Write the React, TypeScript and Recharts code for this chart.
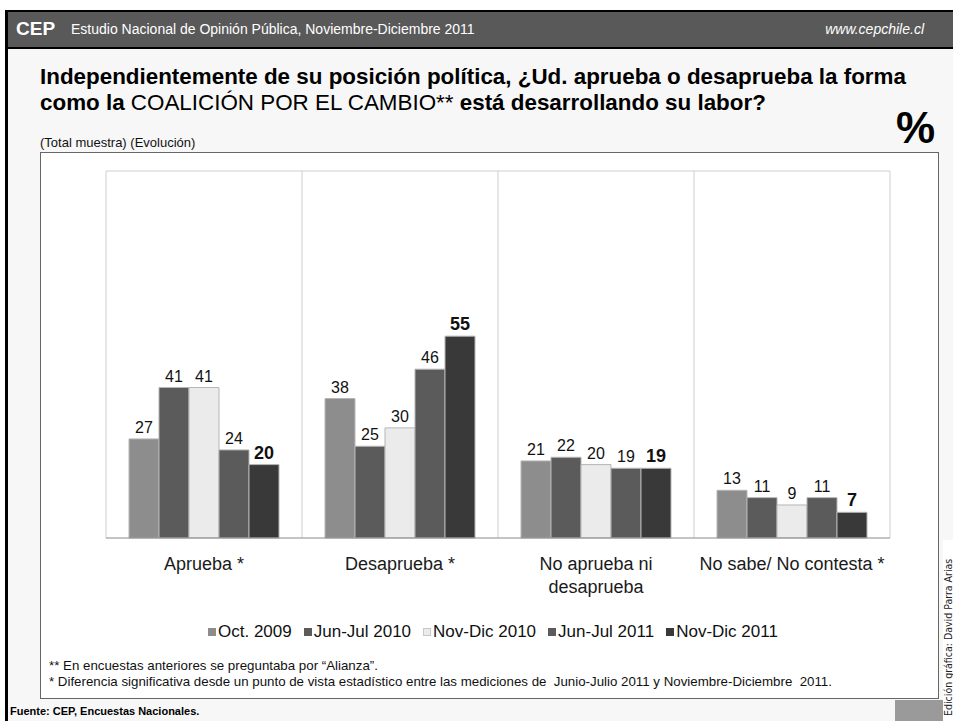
import React from "react"
import { BarChart, Bar, XAxis, YAxis, CartesianGrid, LabelList } from "recharts"

const CATEGORIES = ["Aprueba *", "Desaprueba *", "No aprueba ni\ndesaprueba", "No sabe/ No contesta *"]
const SERIES_NAMES = ["Oct. 2009", "Jun-Jul 2010", "Nov-Dic 2010", "Jun-Jul 2011", "Nov-Dic 2011"]
const OCT_2009 = [27, 38, 21, 13]
const JUN_JUL_2010 = [41, 25, 22, 11]
const NOV_DIC_2010 = [41, 30, 20, 9]
const JUN_JUL_2011 = [24, 46, 19, 11]
const NOV_DIC_2011 = [20, 55, 19, 7]
const SERIES_VALUES = [OCT_2009, JUN_JUL_2010, NOV_DIC_2010, JUN_JUL_2011, NOV_DIC_2011]
const SERIES_COLORS = ["#8d8d8d", "#5b5b5b", "#ebebeb", "#5b5b5b", "#393939"]

const FONT = "'Liberation Sans', Arial, sans-serif"

const chartData = CATEGORIES.map((category, ci) => {
  const row: Record<string, string | number> = { category }
  SERIES_VALUES.forEach((vals, si) => {
    row[`s${si}`] = vals[ci]
  })
  return row
})

const CHART_W = 897
const CHART_H = 470
const MARGIN = { top: 18, left: 65, right: 48, bottom: 25 }

function CategoryTick(props: any) {
  const { x, y, payload } = props
  const lines = String(payload.value).split("\n")
  return (
    <text x={x} y={y + 24} textAnchor="middle" fontSize={18} fontFamily={FONT} fill="#1a1a1a">
      {lines.map((line, i) => (
        <tspan key={i} x={x} dy={i === 0 ? 0 : 23}>
          {line}
        </tspan>
      ))}
    </text>
  )
}

// category boundaries instead of centred tick lines
const boundaryLines = (args: any) => {
  const o = args?.offset
  const left = o ? o.left : MARGIN.left
  const w = o ? o.width : CHART_W - MARGIN.left - MARGIN.right
  return [0, 1, 2, 3, 4].map(i => left + (i * w) / CATEGORIES.length)
}
const topLine = (args: any) => [args?.offset ? args.offset.top : MARGIN.top]

export default function App() {
  return (
    <div
      style={{
        position: "absolute",
        left: 0,
        top: 0,
        width: 953,
        height: 721,
        overflow: "hidden",
        background: "#fff",
        fontFamily: FONT,
      }}
    >
      {/* slide frame */}
      <div
        style={{
          position: "absolute",
          left: 5,
          top: 10,
          width: 960,
          height: 720,
          background: "#f7f7f7",
          borderLeft: "3px solid #000",
          borderTop: "2px solid #000",
        }}
      />
      <div
        style={{
          position: "absolute",
          left: 8,
          top: 12,
          width: 950,
          height: 35,
          background: "#595959",
          borderBottom: "2px solid #000",
        }}
      />
      <div style={{ position: "absolute", left: 16, top: 18, color: "#fff", fontWeight: 900, fontSize: 19, lineHeight: "22px" }}>
        CEP
      </div>
      <div style={{ position: "absolute", left: 71, top: 21, color: "#fff", fontSize: 14, lineHeight: "17px" }}>
        Estudio Nacional de Opinión Pública, Noviembre-Diciembre 2011
      </div>
      <div
        style={{
          position: "absolute",
          right: 953 - 924,
          top: 21,
          color: "#fff",
          fontSize: 14,
          lineHeight: "17px",
          fontStyle: "italic",
        }}
      >
        www.cepchile.cl
      </div>

      {/* title */}
      <div
        style={{
          position: "absolute",
          left: 40,
          top: 64,
          width: 890,
          fontSize: 22.4,
          lineHeight: "26px",
          fontWeight: "bold",
          color: "#000",
        }}
      >
        <div>Independientemente de su posición política, ¿Ud. aprueba o desaprueba la forma</div>
        <div>
          como la <span style={{ fontWeight: "normal" }}>COALICIÓN POR EL CAMBIO**</span> está desarrollando su labor?
        </div>
      </div>
      <div style={{ position: "absolute", left: 40, top: 135, fontSize: 13, lineHeight: "16px", color: "#111" }}>
        (Total muestra) (Evolución)
      </div>
      <div style={{ position: "absolute", left: 896, top: 103, fontSize: 44, lineHeight: "50px", fontWeight: "bold" }}>
        %
      </div>

      {/* chart box */}
      <div
        style={{
          position: "absolute",
          left: 40,
          top: 152,
          width: 899,
          height: 547,
          boxSizing: "border-box",
          border: "1px solid #666",
          background: "#fff",
        }}
      >
        <BarChart
          width={CHART_W}
          height={CHART_H}
          data={chartData}
          margin={MARGIN}
          barCategoryGap={23}
          barGap={0}
        >
          <CartesianGrid
            stroke="#cfcfcf"
            verticalCoordinatesGenerator={boundaryLines}
            horizontalCoordinatesGenerator={topLine}
          />
          <XAxis
            dataKey="category"
            interval={0}
            height={60}
            tickLine={false}
            axisLine={{ stroke: "#8a8a8a" }}
            tick={<CategoryTick />}
          />
          <YAxis hide domain={[0, 100]} />
          {SERIES_NAMES.map((name, si) => {
            const last = si === SERIES_NAMES.length - 1
            return (
              <Bar
                key={name}
                name={name}
                dataKey={`s${si}`}
                fill={SERIES_COLORS[si]}
                stroke="#b5b5b5"
                strokeWidth={1}
                isAnimationActive={false}
              >
                <LabelList
                  dataKey={`s${si}`}
                  position="top"
                  offset={6}
                  fontSize={last ? 18 : 16}
                  fontWeight={last ? "bold" : "normal"}
                  fontFamily={FONT}
                  fill="#111"
                />
              </Bar>
            )
          })}
        </BarChart>

        {/* legend */}
        <div
          style={{
            position: "absolute",
            left: 167,
            top: 469,
            display: "flex",
            gap: 12,
            fontSize: 17,
            lineHeight: "20px",
            color: "#111",
          }}
        >
          {SERIES_NAMES.map((name, si) => (
            <div key={name} style={{ display: "flex", alignItems: "center", gap: 2 }}>
              <span
                style={{
                  display: "inline-block",
                  width: 8,
                  height: 8,
                  background: SERIES_COLORS[si],
                  border: si === 2 ? "1px solid #c8c8c8" : "none",
                  boxSizing: "border-box",
                }}
              />
              <span>{name}</span>
            </div>
          ))}
        </div>

        {/* footnotes */}
        <div style={{ position: "absolute", left: 8, top: 505, fontSize: 13.3, lineHeight: "16px", color: "#111" }}>
          <div>** En encuestas anteriores se preguntaba por “Alianza”.</div>
          <div>
            * Diferencia significativa desde un punto de vista estadístico entre las mediciones de&nbsp; Junio-Julio 2011 y
            Noviembre-Diciembre&nbsp; 2011.
          </div>
        </div>
      </div>

      {/* footer */}
      <div style={{ position: "absolute", left: 10, top: 704, fontSize: 11, lineHeight: "14px", fontWeight: "bold" }}>
        Fuente: CEP, Encuestas Nacionales.
      </div>
      <div style={{ position: "absolute", left: 895, top: 700, width: 48, height: 21, background: "#9a9a9a" }} />
      <div style={{ position: "absolute", left: 943, top: 540, width: 10, height: 181, background: "#fff" }} />
      <div
        style={{
          position: "absolute",
          left: 943,
          top: 716,
          transform: "rotate(-90deg)",
          transformOrigin: "0 0",
          whiteSpace: "nowrap",
          fontFamily: "'DejaVu Sans Condensed', 'DejaVu Sans', sans-serif",
          fontSize: 10.5,
          lineHeight: "10px",
          color: "#222",
        }}
      >
        Edición gráfica: David Parra Arias
      </div>
    </div>
  )
}
